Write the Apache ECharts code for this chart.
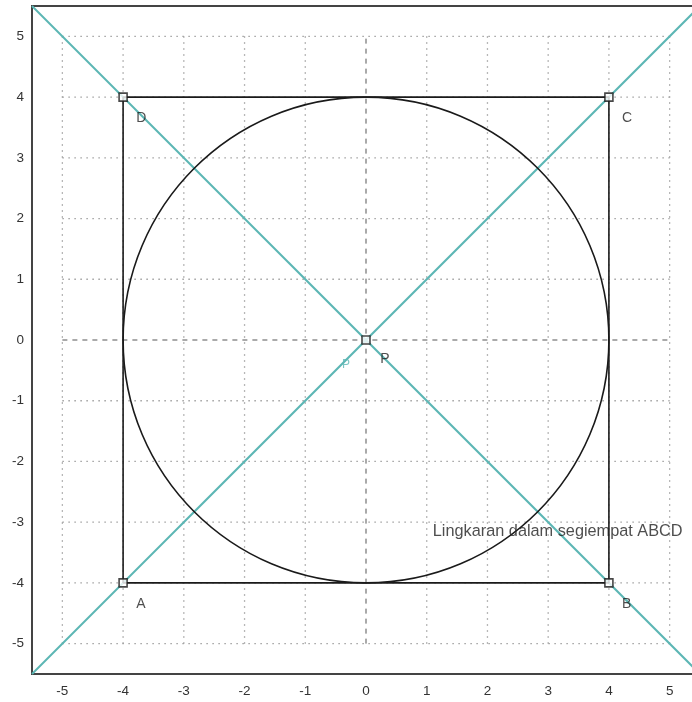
<!DOCTYPE html>
<html><head><meta charset="utf-8">
<script src="https://cdn.jsdelivr.net/npm/echarts@6/dist/echarts.min.js"></script>
<style>html,body{margin:0;padding:0;background:#fff}#c{width:692px;height:702px}</style>
</head><body><div id="c"></div>
<script>
const axisMin = -5.5, axisMax = 5.5;
const tickValues = [-5,-4,-3,-2,-1,0,1,2,3,4,5];
const gridValues = [-5,-4,-3,-2,-1,1,2,3,4,5];
const vertexNames = ['A','B','C','D'];
const vertexX = [-4, 4, 4, -4];
const vertexY = [-4, -4, 4, 4];
const circleCenter = [0, 0];
const circleRadius = 4;
const diag1 = [[-5.5,-5.5],[5.5,5.5]];
const diag2 = [[-5.5,5.5],[5.5,-5.5]];
const centerPoint = [0, 0];
const captionText = 'Lingkaran dalam segiempat ABCD';
const captionPos = [1.1, -3.15];

const series = [];
gridValues.forEach(v => {
  series.push({type:'line', data:[[v,-5],[v,5]], symbol:'none', silent:true,
    lineStyle:{color:'#a0a0a0', width:1.3, type:[1.5,4.5]}, z:1});
  series.push({type:'line', data:[[-5,v],[5,v]], symbol:'none', silent:true,
    lineStyle:{color:'#a0a0a0', width:1.3, type:[1.5,4.5]}, z:1});
});
series.push({type:'line', data:[[0,-5],[0,5]], symbol:'none', lineStyle:{color:'#666', width:1.1, type:[5,5]}, z:1});
series.push({type:'line', data:[[-5,0],[5,0]], symbol:'none', lineStyle:{color:'#666', width:1.1, type:[5,5]}, z:1});
const diagColor = '#5cb6b4';
series.push({type:'line', data:diag1, symbol:'none', lineStyle:{color:diagColor, width:2}, z:3});
series.push({type:'line', data:diag2, symbol:'none', lineStyle:{color:diagColor, width:2}, z:3});
series.push({type:'custom', data:[[circleCenter[0], circleCenter[1], circleRadius]], z:4,
  renderItem:(params, api) => {
    const c = api.coord([api.value(0), api.value(1)]);
    const s = api.size([api.value(2), api.value(2)]);
    return {type:'ellipse', shape:{cx:c[0], cy:c[1], rx:s[0], ry:s[1]},
      style:{fill:null, stroke:'#1a1a1a', lineWidth:1.6}};
  }});
const sq = vertexX.map((x,i)=>[x, vertexY[i]]);
series.push({type:'line', data:sq.concat([sq[0]]), symbol:'none', lineStyle:{color:'#1a1a1a', width:1.6}, z:5});
series.push({type:'scatter', data:sq.map((p,i)=>({value:p, name:vertexNames[i]})), symbol:'rect', symbolSize:8,
  itemStyle:{color:'#fff', borderColor:'#1a1a1a', borderWidth:1.6}, z:6,
  label:{show:true, formatter:p=>p.name, position:[18,19], color:'#222', fontSize:14, fontFamily:'Liberation Sans'}});
series.push({type:'scatter', data:[centerPoint], symbol:'rect', symbolSize:8,
  itemStyle:{color:'#fff', borderColor:'#1a1a1a', borderWidth:1.6}, z:7,
  label:{show:true, formatter:'P', position:[19,17], color:'#222', fontSize:14, fontFamily:'Liberation Sans'}});
series.push({type:'scatter', data:[centerPoint], symbolSize:0, z:7,
  label:{show:true, formatter:'P', position:[-24,19], color:diagColor, fontSize:12, fontFamily:'Liberation Sans'}});
series.push({type:'scatter', data:[captionPos], symbolSize:0, z:8,
  label:{show:true, formatter:captionText, position:'right', distance:0, color:'#222', fontSize:16.3, fontFamily:'Liberation Sans'}});

const axisCommon = {type:'value', min:axisMin, max:axisMax,
  axisLine:{show:false}, axisTick:{show:false}, splitLine:{show:false},
  axisLabel:{customValues:tickValues, color:'#333', fontSize:13.5, fontFamily:'Liberation Sans'}};
const chart = echarts.init(document.getElementById('c'));
chart.setOption({
  animation:false,
  grid:{left:32, top:6, width:668, height:668, outerBoundsMode:'none', containLabel:false,
    show:true, borderColor:'#444', borderWidth:2, backgroundColor:'#fff'},
  xAxis:Object.assign({}, axisCommon, {axisLabel:Object.assign({}, axisCommon.axisLabel, {margin:10})}),
  yAxis:Object.assign({}, axisCommon, {axisLabel:Object.assign({}, axisCommon.axisLabel, {margin:8})}),
  series:series
});
</script></body></html>
